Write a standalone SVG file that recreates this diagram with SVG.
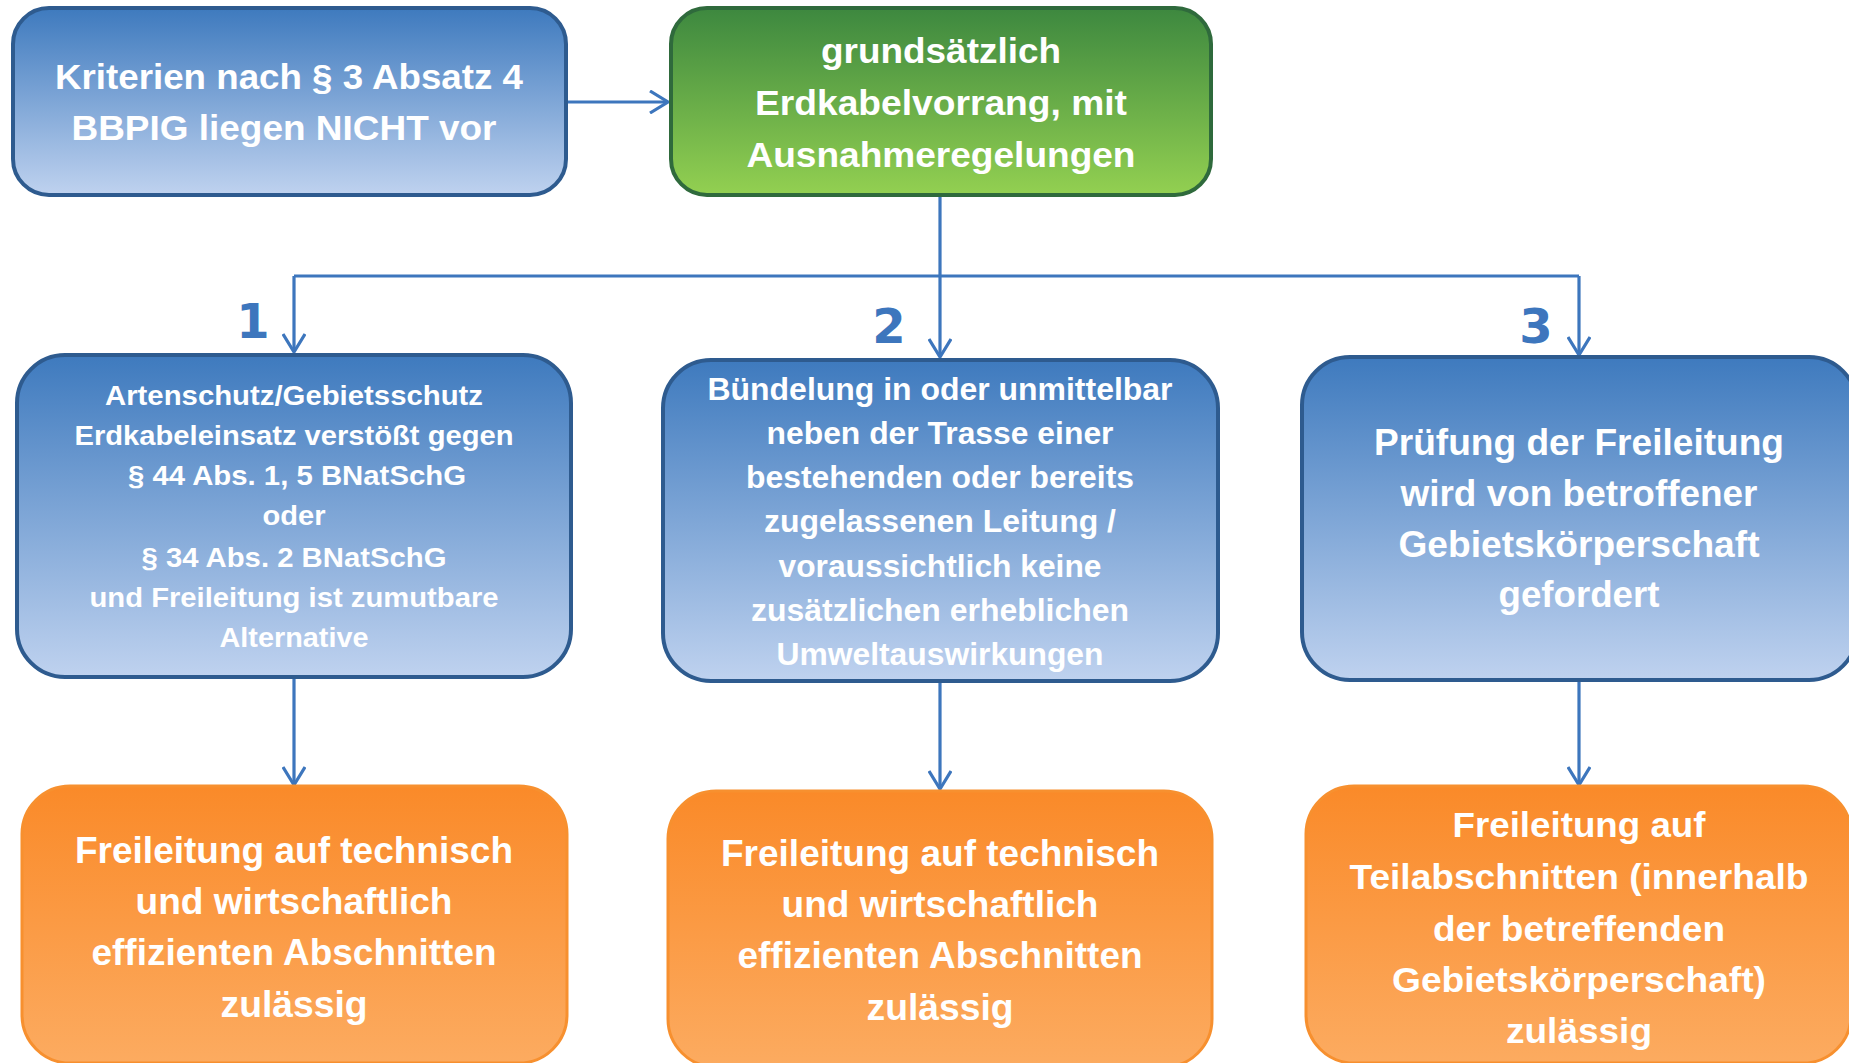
<svg xmlns="http://www.w3.org/2000/svg" width="1849" height="1063" viewBox="0 0 1849 1063">
<style>
.t{fill:#ffffff;font-family:"Liberation Sans",Arial,sans-serif;font-weight:bold;text-anchor:middle}
.blue{fill:url(#gBlue);stroke:#2e5b8f;stroke-width:4}
.green{fill:url(#gGreen);stroke:#2f6a3c;stroke-width:4}
.orange{fill:url(#gOrange);stroke:#f7902f;stroke-width:3}
.c{fill:none;stroke:#3d76bd;stroke-width:3.2}
.num{fill:#3d76bd;font-family:"DejaVu Sans",sans-serif;font-weight:bold;font-size:48px;text-anchor:middle}
</style>
<defs>
<linearGradient id="gBlue" x1="0" y1="0" x2="0" y2="1">
<stop offset="0" stop-color="#3e7abe"/>
<stop offset="1" stop-color="#bfd2ef"/>
</linearGradient>
<linearGradient id="gGreen" x1="0" y1="0" x2="0" y2="1">
<stop offset="0" stop-color="#3d883f"/>
<stop offset="1" stop-color="#93d051"/>
</linearGradient>
<linearGradient id="gOrange" x1="0" y1="0" x2="0" y2="1">
<stop offset="0" stop-color="#fa8a29"/>
<stop offset="1" stop-color="#fcab60"/>
</linearGradient>
<marker id="arr" viewBox="0 0 20 24" refX="19" refY="12" markerWidth="20" markerHeight="24" markerUnits="userSpaceOnUse" orient="auto">
<path d="M1,1 L19,12 L1,23" fill="none" stroke="#3d76bd" stroke-width="3.2"/>
</marker>
</defs>

<g id="connectors">
<line class="c" x1="568" y1="102" x2="668" y2="102" marker-end="url(#arr)"/>
<line class="c" x1="940" y1="197" x2="940" y2="276"/>
<line class="c" x1="294" y1="276" x2="1579" y2="276"/>
<line class="c" x1="294" y1="276" x2="294" y2="352" marker-end="url(#arr)"/>
<line class="c" x1="940" y1="276" x2="940" y2="357" marker-end="url(#arr)"/>
<line class="c" x1="1579" y1="276" x2="1579" y2="355" marker-end="url(#arr)"/>
<line class="c" x1="294" y1="679" x2="294" y2="785" marker-end="url(#arr)"/>
<line class="c" x1="940" y1="683" x2="940" y2="789" marker-end="url(#arr)"/>
<line class="c" x1="1579" y1="682" x2="1579" y2="785" marker-end="url(#arr)"/>
<text class="num" x="253" y="338">1</text>
<text class="num" x="889" y="343">2</text>
<text class="num" x="1536" y="343">3</text>
</g>

<g id="kriterien">
<rect class="blue" x="13" y="8" width="553" height="187" rx="36"/>
<text class="t" font-size="35" x="289" y="89" textLength="468" lengthAdjust="spacingAndGlyphs">Kriterien nach § 3 Absatz 4</text>
<text class="t" font-size="35" x="284" y="140" textLength="425" lengthAdjust="spacingAndGlyphs">BBPIG liegen NICHT vor</text>
</g>

<g id="erdkabelvorrang">
<rect class="green" x="671" y="8" width="540" height="187" rx="36"/>
<text class="t" font-size="35" x="941" y="63" textLength="240" lengthAdjust="spacingAndGlyphs">grundsätzlich</text>
<text class="t" font-size="35" x="941" y="115" textLength="372" lengthAdjust="spacingAndGlyphs">Erdkabelvorrang, mit</text>
<text class="t" font-size="35" x="941" y="167" textLength="389" lengthAdjust="spacingAndGlyphs">Ausnahmeregelungen</text>
</g>

<g id="artenschutz">
<rect class="blue" x="17" y="355" width="554" height="322" rx="48"/>
<text class="t" font-size="28" x="294" y="405" textLength="378" lengthAdjust="spacingAndGlyphs">Artenschutz/Gebietsschutz</text>
<text class="t" font-size="28" x="294" y="445" textLength="439" lengthAdjust="spacingAndGlyphs">Erdkabeleinsatz verstößt gegen</text>
<text class="t" font-size="28" x="297" y="485" textLength="338" lengthAdjust="spacingAndGlyphs">§ 44 Abs. 1, 5 BNatSchG</text>
<text class="t" font-size="28" x="294" y="525" textLength="63" lengthAdjust="spacingAndGlyphs">oder</text>
<text class="t" font-size="28" x="294" y="567" textLength="305" lengthAdjust="spacingAndGlyphs">§ 34 Abs. 2 BNatSchG</text>
<text class="t" font-size="28" x="294" y="607" textLength="409" lengthAdjust="spacingAndGlyphs">und Freileitung ist zumutbare</text>
<text class="t" font-size="28" x="294" y="647" textLength="149" lengthAdjust="spacingAndGlyphs">Alternative</text>
</g>

<g id="buendelung">
<rect class="blue" x="663" y="360" width="555" height="321" rx="48"/>
<text class="t" font-size="31.5" x="940" y="400" textLength="465" lengthAdjust="spacingAndGlyphs">Bündelung in oder unmittelbar</text>
<text class="t" font-size="31.5" x="940" y="444" textLength="347" lengthAdjust="spacingAndGlyphs">neben der Trasse einer</text>
<text class="t" font-size="31.5" x="940" y="488" textLength="388" lengthAdjust="spacingAndGlyphs">bestehenden oder bereits</text>
<text class="t" font-size="31.5" x="940" y="532" textLength="352" lengthAdjust="spacingAndGlyphs">zugelassenen Leitung /</text>
<text class="t" font-size="31.5" x="940" y="577" textLength="323" lengthAdjust="spacingAndGlyphs">voraussichtlich keine</text>
<text class="t" font-size="31.5" x="940" y="621" textLength="378" lengthAdjust="spacingAndGlyphs">zusätzlichen erheblichen</text>
<text class="t" font-size="31.5" x="940" y="665" textLength="327" lengthAdjust="spacingAndGlyphs">Umweltauswirkungen</text>
</g>

<g id="pruefung">
<rect class="blue" x="1302" y="357" width="555" height="323" rx="48"/>
<text class="t" font-size="37" x="1579" y="455" textLength="410" lengthAdjust="spacingAndGlyphs">Prüfung der Freileitung</text>
<text class="t" font-size="37" x="1579" y="506" textLength="357" lengthAdjust="spacingAndGlyphs">wird von betroffener</text>
<text class="t" font-size="37" x="1579" y="557" textLength="361" lengthAdjust="spacingAndGlyphs">Gebietskörperschaft</text>
<text class="t" font-size="37" x="1579" y="607" textLength="161" lengthAdjust="spacingAndGlyphs">gefordert</text>
</g>

<g id="ergebnis1">
<rect class="orange" x="22" y="786" width="545" height="277" rx="48"/>
<text class="t" font-size="36.5" x="294" y="863" textLength="438" lengthAdjust="spacingAndGlyphs">Freileitung auf technisch</text>
<text class="t" font-size="36.5" x="294" y="914" textLength="317" lengthAdjust="spacingAndGlyphs">und wirtschaftlich</text>
<text class="t" font-size="36.5" x="294" y="965" textLength="405" lengthAdjust="spacingAndGlyphs">effizienten Abschnitten</text>
<text class="t" font-size="36.5" x="294" y="1017" textLength="147" lengthAdjust="spacingAndGlyphs">zulässig</text>
</g>

<g id="ergebnis2">
<rect class="orange" x="668" y="791" width="544" height="276" rx="48"/>
<text class="t" font-size="36.5" x="940" y="866" textLength="438" lengthAdjust="spacingAndGlyphs">Freileitung auf technisch</text>
<text class="t" font-size="36.5" x="940" y="917" textLength="317" lengthAdjust="spacingAndGlyphs">und wirtschaftlich</text>
<text class="t" font-size="36.5" x="940" y="968" textLength="405" lengthAdjust="spacingAndGlyphs">effizienten Abschnitten</text>
<text class="t" font-size="36.5" x="940" y="1020" textLength="147" lengthAdjust="spacingAndGlyphs">zulässig</text>
</g>

<g id="ergebnis3">
<rect class="orange" x="1306" y="786" width="545" height="277" rx="48"/>
<text class="t" font-size="35.5" x="1579" y="837" textLength="253" lengthAdjust="spacingAndGlyphs">Freileitung auf</text>
<text class="t" font-size="35.5" x="1579" y="889" textLength="459" lengthAdjust="spacingAndGlyphs">Teilabschnitten (innerhalb</text>
<text class="t" font-size="35.5" x="1579" y="941" textLength="292" lengthAdjust="spacingAndGlyphs">der betreffenden</text>
<text class="t" font-size="35.5" x="1579" y="992" textLength="374" lengthAdjust="spacingAndGlyphs">Gebietskörperschaft)</text>
<text class="t" font-size="35.5" x="1579" y="1043" textLength="146" lengthAdjust="spacingAndGlyphs">zulässig</text>
</g>
</svg>
